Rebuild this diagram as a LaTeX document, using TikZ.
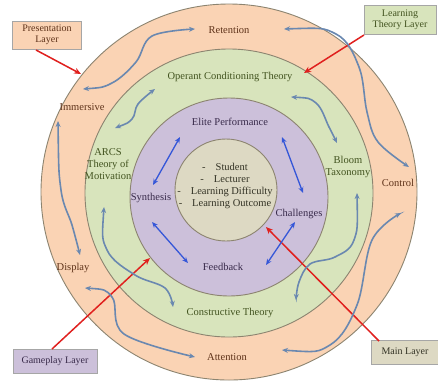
\documentclass[tikz,border=0pt]{standalone}
\usetikzlibrary{arrows.meta}
\usepackage{fontspec}
\setmainfont{Liberation Serif}
\definecolor{orF}{HTML}{FAD3B4}
\definecolor{grF}{HTML}{D8E4BC}
\definecolor{puF}{HTML}{CCC0DA}
\definecolor{beF}{HTML}{DDD9C3}
\definecolor{ringL}{HTML}{8C8470}
\definecolor{orT}{HTML}{5E3219}
\definecolor{grT}{HTML}{42531F}
\definecolor{puT}{HTML}{382A4A}
\definecolor{beT}{HTML}{333325}
\definecolor{curvC}{HTML}{6A88B0}
\definecolor{blueC}{HTML}{3557D8}
\definecolor{redC}{HTML}{E0201E}
\tikzset{
  ring/.style={draw=ringL, line width=0.9pt},
  lbl/.style={font=\fontsize{10.5}{12}\selectfont, align=center, inner sep=0pt},
  layerbox/.style={draw=gray!70, line width=0.8pt, font=\fontsize{10}{11.5}\selectfont, align=center, minimum height=24pt, inner sep=2pt},
  curv/.style={draw=curvC, line width=1.6pt, {Stealth[length=6pt,width=5pt]}-{Stealth[length=6pt,width=5pt]}},
  bluearr/.style={draw=blueC, line width=1.3pt, {Stealth[length=6pt,width=5pt]}-{Stealth[length=6pt,width=5pt]}},
  redarr/.style={draw=redC, line width=1.5pt, -{Stealth[length=7pt,width=6pt]}},
}
\begin{document}
\begin{tikzpicture}[x=1pt,y=-1pt]
\useasboundingbox (0,0) rectangle (438,381);
% rings
\fill[white] (0,0) rectangle (438,381);
\filldraw[ring, fill=orF] (229,192) circle (188);
\filldraw[ring, fill=grF] (229,193) circle (144);
\filldraw[ring, fill=puF] (229,197) circle (99);
\filldraw[ring, fill=beF] (226,190) circle (51);

% orange ring labels
\node[lbl, text=orT] (ret) at (229,30) {Retention};
\node[lbl, text=orT] (imm) at (82,107) {Immersive};
\node[lbl, text=orT] (ctl) at (398,183) {Control};
\node[lbl, text=orT] (dsp) at (73,268) {Display};
\node[lbl, text=orT] (att) at (227,357) {Attention};
% green ring labels
\node[lbl, text=grT] (oct) at (230,77) {Operant Conditioning Theory};
\node[lbl, text=grT] (arcs) at (108,164) {ARCS\\Theory of\\Motivation};
\node[lbl, text=grT] (blo) at (348,167) {Bloom\\Taxonomy};
\node[lbl, text=grT] (con) at (230,313) {Constructive Theory};
% purple ring labels
\node[lbl, text=puT] (eli) at (230,122) {Elite Performance};
\node[lbl, text=puT] (syn) at (151,198) {Synthesis};
\node[lbl, text=puT] (cha) at (299,214) {Challenges};
\node[lbl, text=puT] (fee) at (223,267) {Feedback};
% center
\node[lbl, text=beT, font=\fontsize{10.5}{12.3}\selectfont] (ctr) at (225,186) {%
-\hspace{10pt}Student\\
-\hspace{10pt}Lecturer\\
-\hspace{10pt}Learning Difficulty\\
-\hspace{10pt}Learning Outcome};

% layer boxes
\node[layerbox, fill=orF, text=orT, minimum width=69pt, minimum height=28pt] (pres) at (47,35) {Presentation\\Layer};
\node[layerbox, fill=grF, text=grT, minimum width=72pt, minimum height=29pt] (ltl) at (400,20) {Learning\\Theory Layer};
\node[layerbox, fill=puF, text=puT, minimum width=84pt] (gpl) at (55,361) {Gameplay Layer};
\node[layerbox, fill=beF, text=beT, minimum width=67pt] (mnl) at (405,352) {Main Layer};

% red arrow targets
\coordinate (tPres) at (81,74);
\coordinate (tLtl) at (304,73);
\coordinate (tGpl) at (150,258);
\coordinate (tMnl) at (266,227);
\draw[redarr] (36,50) -- (tPres);
\draw[redarr] (364,35) -- (tLtl);
\draw[redarr] (52,349) -- (tGpl);
\draw[redarr] (379,341) -- (tMnl);

% blue arrows (purple ring)
\draw[bluearr] (153,185) -- (180,137);
\draw[bluearr] (282,137) -- (303,193);
\draw[bluearr] (152,222) -- (188,263);
\draw[bluearr] (266,265) -- (295,222);

% curvy arrows orange ring
\draw[curv] plot[smooth, tension=0.6] coordinates {(83,89) (112,83) (136,62) (152,36) (195,29)};
\draw[curv] plot[smooth, tension=0.6] coordinates {(284,29) (336,34) (359,67) (367,112) (378,142) (409,167)};
\draw[curv] plot[smooth, tension=0.6] coordinates {(58,121) (61,190) (72,225) (80,255)};
\draw[curv] plot[smooth, tension=0.6] coordinates {(85,288) (112,297) (124,334) (195,357)};
\draw[curv] plot[smooth, tension=0.6] coordinates {(282,350) (330,345) (357,305) (372,240) (401,213)};
% curvy arrows green ring
\draw[curv] plot[smooth, tension=0.6] coordinates {(115,128) (132,119) (138,104) (155,89)};
\draw[curv] plot[smooth, tension=0.6] coordinates {(291,97) (316,103) (329,127) (337,143)};
\draw[curv] plot[smooth, tension=0.6] coordinates {(104,207) (107,250) (135,275) (165,288) (173,307)};
\draw[curv] plot[smooth, tension=0.6] coordinates {(357,193) (354,240) (335,257) (310,264) (299,282) (296,300)};
\end{tikzpicture}
\end{document}
